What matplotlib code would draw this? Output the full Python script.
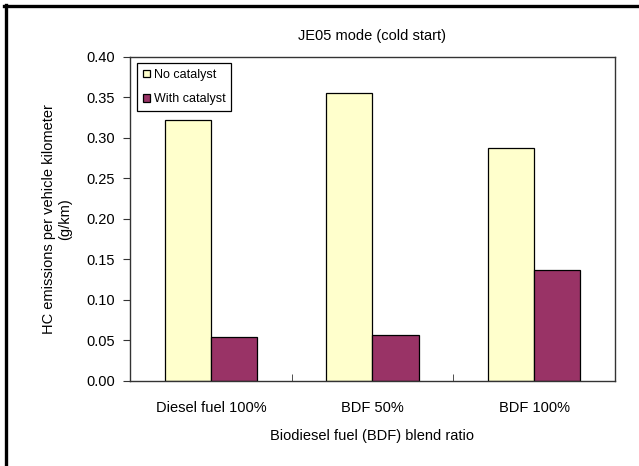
import matplotlib
matplotlib.use("Agg")
import matplotlib.pyplot as plt
from matplotlib.lines import Line2D
import numpy as np

plt.rcParams['font.family'] = ['Liberation Sans', 'DejaVu Sans']

categories = ["Diesel fuel 100%", "BDF 50%", "BDF 100%"]
no_catalyst = [0.322, 0.355, 0.287]
with_catalyst = [0.054, 0.056, 0.137]
series_names = ["No catalyst", "With catalyst"]
yticks = [0.00, 0.05, 0.10, 0.15, 0.20, 0.25, 0.30, 0.35, 0.40]

fig = plt.figure(figsize=(6.39, 4.66), dpi=100)
ax = fig.add_axes([130/639, 1-380.5/466, (615-130)/639, (380.5-57)/466])

x = np.arange(len(categories))
w = 0.285
ax.bar(x - w/2, no_catalyst, width=w, color="#FFFFCC", edgecolor="black", linewidth=0.9, label=series_names[0])
ax.bar(x + w/2, with_catalyst, width=w, color="#993366", edgecolor="black", linewidth=0.9, label=series_names[1])

ax.set_xlim(-0.5, len(categories) - 0.5)
ax.set_ylim(0, 0.40)
ax.set_yticks(yticks)
ax.set_yticklabels([f"{v:.2f}" for v in yticks], fontsize=10.5)
ax.set_xticks(x)
ax.set_xticklabels(categories, fontsize=10.5)
ax.tick_params(axis='x', which='major', length=0, pad=15)
ax.set_xticks(np.arange(len(categories) - 1) + 0.5, minor=True)
ax.tick_params(axis='x', which='minor', direction='in', length=5, color="#333333")
ax.tick_params(axis='y', direction='out', length=5, pad=6, color="#333333")
for s in ax.spines.values():
    s.set_color("#333333")
    s.set_linewidth(1.0)

ax.set_title("JE05 mode (cold start)", fontsize=10.5, pad=12)
ax.set_xlabel("Biodiesel fuel (BDF) blend ratio", fontsize=10.5, labelpad=10)
ax.set_ylabel("HC emissions per vehicle kilometer\n(g/km)", fontsize=10.5, labelpad=10)

leg = ax.legend(loc='upper left', bbox_to_anchor=(0.0145, 0.981), fontsize=9,
                frameon=True, fancybox=False, edgecolor="black", framealpha=1,
                handlelength=0.55, handleheight=0.55, handletextpad=0.35,
                borderpad=0.45, labelspacing=1.0, borderaxespad=0)
leg.get_frame().set_linewidth(0.9)

fig.add_artist(Line2D([5.5/639, 5.5/639], [0, 1 - 5/466], transform=fig.transFigure, color="black", linewidth=2.4))
fig.add_artist(Line2D([4/639, 1], [1 - 6/466, 1 - 6/466], transform=fig.transFigure, color="black", linewidth=2.4))

fig.savefig("out.png", dpi=100)
